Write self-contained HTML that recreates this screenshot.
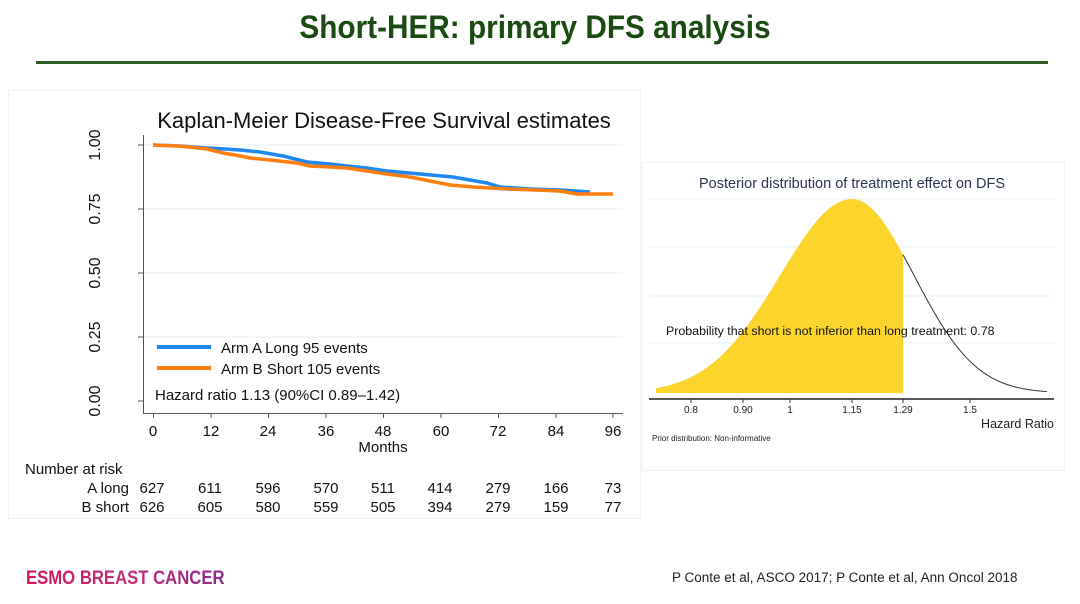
<!DOCTYPE html>
<html><head><meta charset="utf-8"><style>
html,body{margin:0;padding:0;background:#fff;}
svg{display:block;font-family:"Liberation Sans",Arial,sans-serif;}
</style></head><body>
<svg width="1080" height="604" viewBox="0 0 1080 604" xmlns="http://www.w3.org/2000/svg">
<rect width="1080" height="604" fill="#fff"/>
<!-- Title -->
<text x="535" y="38" text-anchor="middle" font-size="32" font-weight="bold" fill="#1b4a12" transform="translate(535 0) scale(0.93 1) translate(-535 0)">Short-HER: primary DFS analysis</text>
<rect x="36" y="61" width="1012" height="3" fill="#2c5a1f"/>
<!-- KM panel -->
<rect x="8.5" y="90.5" width="632" height="428" fill="#fff" stroke="#eef2f2"/>
<text x="384" y="128" text-anchor="middle" font-size="22" fill="#111">Kaplan-Meier Disease-Free Survival estimates</text>
<g stroke="#e6eeee" stroke-width="1">
<line x1="144" y1="145" x2="623" y2="145"/><line x1="144" y1="209" x2="623" y2="209"/>
<line x1="144" y1="273" x2="623" y2="273"/><line x1="144" y1="337" x2="623" y2="337"/>
</g>
<g stroke="#555" stroke-width="1">
<line x1="143.5" y1="135" x2="143.5" y2="413"/><line x1="143" y1="413.5" x2="623" y2="413.5"/>
<line x1="138" y1="145" x2="143" y2="145"/><line x1="138" y1="209" x2="143" y2="209"/>
<line x1="138" y1="273" x2="143" y2="273"/><line x1="138" y1="337" x2="143" y2="337"/>
<line x1="138" y1="401" x2="143" y2="401"/>
<line x1="153.5" y1="413" x2="153.5" y2="418"/><line x1="211" y1="413" x2="211" y2="418"/>
<line x1="268.5" y1="413" x2="268.5" y2="418"/><line x1="326" y1="413" x2="326" y2="418"/>
<line x1="383.5" y1="413" x2="383.5" y2="418"/><line x1="441" y1="413" x2="441" y2="418"/>
<line x1="498.5" y1="413" x2="498.5" y2="418"/><line x1="556" y1="413" x2="556" y2="418"/>
<line x1="613" y1="413" x2="613" y2="418"/>
</g>
<g font-size="16" fill="#111" text-anchor="middle">
<text transform="translate(100 145) rotate(-90)">1.00</text>
<text transform="translate(100 209) rotate(-90)">0.75</text>
<text transform="translate(100 273) rotate(-90)">0.50</text>
<text transform="translate(100 337) rotate(-90)">0.25</text>
<text transform="translate(100 401) rotate(-90)">0.00</text>
</g>
<g font-size="15" fill="#111" text-anchor="middle">
<text x="153" y="436">0</text><text x="211" y="436">12</text><text x="268" y="436">24</text>
<text x="326" y="436">36</text><text x="383" y="436">48</text><text x="441" y="436">60</text>
<text x="498" y="436">72</text><text x="556" y="436">84</text><text x="613" y="436">96</text>
<text x="383" y="452">Months</text>
</g>
<polyline fill="none" stroke="#1e88f0" stroke-width="3.5" points="153,145 180,146 207,148 225,149 240,150 260,152 283,156 295,159 307,162 330,164 347,166 367,168 387,171 420,174 453,177 470,180 487,183 500,187 530,189 560,190 590,192"/>
<polyline fill="none" stroke="#ff7f0e" stroke-width="3.5" points="153,145 177,146 190,147 207,149 215,151 223,153 235,155 250,158 270,160 297,163 310,166 330,167 347,168 367,171 387,174 410,177 430,181 450,185 473,187 490,188 507,189 535,190 560,191 577,194 613,194"/>
<line x1="157" y1="347" x2="211" y2="347" stroke="#1e88f0" stroke-width="4"/>
<line x1="157" y1="368" x2="211" y2="368" stroke="#ff7f0e" stroke-width="4"/>
<g font-size="15" fill="#111">
<text x="221" y="353">Arm A Long 95 events</text>
<text x="221" y="374">Arm B Short 105 events</text>
<text x="155" y="400">Hazard ratio 1.13 (90%CI 0.89–1.42)</text>
<text x="25" y="474">Number at risk</text>
<text x="129" y="493" text-anchor="end">A long</text>
<text x="129" y="512" text-anchor="end">B short</text>
</g>
<g font-size="15" fill="#111" text-anchor="middle">
<text x="152" y="493">627</text><text x="210" y="493">611</text><text x="268" y="493">596</text><text x="326" y="493">570</text><text x="383" y="493">511</text><text x="440" y="493">414</text><text x="498" y="493">279</text><text x="556" y="493">166</text><text x="613" y="493">73</text>
<text x="152" y="512">626</text><text x="210" y="512">605</text><text x="268" y="512">580</text><text x="326" y="512">559</text><text x="383" y="512">505</text><text x="440" y="512">394</text><text x="498" y="512">279</text><text x="556" y="512">159</text><text x="613" y="512">77</text>
</g>
<!-- Posterior panel -->
<rect x="642.5" y="162.5" width="422" height="308" fill="#fff" stroke="#eef2f2"/>
<text x="852" y="188" text-anchor="middle" font-size="14.5" fill="#2a3550">Posterior distribution of treatment effect on DFS</text>
<g stroke="#eef2f2" stroke-width="1">
<line x1="649" y1="199" x2="1054" y2="199"/><line x1="649" y1="247" x2="1054" y2="247"/>
<line x1="649" y1="296" x2="1054" y2="296"/><line x1="649" y1="343" x2="1054" y2="343"/>
</g>
<path id="fill" fill="#fbd52c"/>
<path id="line" fill="none" stroke="#333" stroke-width="1"/>
<line x1="649" y1="399" x2="1054" y2="399" stroke="#222" stroke-width="1.5"/>
<g stroke="#333" stroke-width="1">
<line x1="691" y1="399" x2="691" y2="403"/><line x1="743" y1="399" x2="743" y2="403"/>
<line x1="790" y1="399" x2="790" y2="403"/><line x1="852" y1="399" x2="852" y2="403"/>
<line x1="903" y1="399" x2="903" y2="403"/><line x1="970" y1="399" x2="970" y2="403"/>
</g>
<g font-size="10" fill="#222" text-anchor="middle">
<text x="691" y="413">0.8</text><text x="743" y="413">0.90</text><text x="790" y="413">1</text>
<text x="852" y="413">1.15</text><text x="903" y="413">1.29</text><text x="970" y="413">1.5</text>
</g>
<text x="1054" y="428" text-anchor="end" font-size="12.5" fill="#222">Hazard Ratio</text>
<text x="652" y="441" font-size="8" fill="#222">Prior distribution: Non-informative</text>
<text x="666" y="335" font-size="12.4" fill="#111">Probability that short is not inferior than long treatment: 0.78</text>
<!-- Footer -->
<defs><linearGradient id="g" x1="0" x2="1"><stop offset="0" stop-color="#d4145a"/><stop offset="0.5" stop-color="#c0307a"/><stop offset="1" stop-color="#8e2a8a"/></linearGradient></defs>
<text x="26" y="584" font-size="19" font-weight="bold" fill="url(#g)" transform="translate(26 0) scale(0.88 1) translate(-26 0)">ESMO BREAST CANCER</text>
<text x="672" y="582" font-size="13.5" fill="#222" transform="translate(672 0) scale(1.0 1) translate(-672 0)">P Conte et al, ASCO 2017; P Conte et al, Ann Oncol 2018</text>
<script>
(function(){
 function y(x){var d=x-852,s=d<0?72:62;return 393-194*Math.exp(-d*d/(2*s*s));}
 var f="M656,393",l="M903,"+y(903).toFixed(1);
 for(var x=656;x<=903;x+=2)f+=" L"+x+","+y(x).toFixed(1);
 f+=" L903,"+y(903).toFixed(1)+" L903,393 Z";
 for(var x=905;x<=1047;x+=2)l+=" L"+x+","+y(x).toFixed(1);
 document.getElementById("fill").setAttribute("d",f);
 document.getElementById("line").setAttribute("d",l);
})();
</script>
</svg>
</body></html>
